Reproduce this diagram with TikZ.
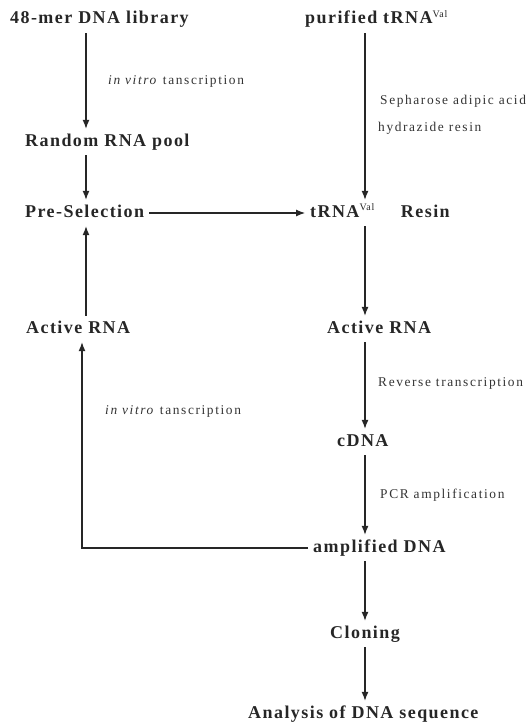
\documentclass[tikz,border=0pt]{standalone}
\usepackage{fontspec}
\setmainfont{Liberation Serif}
\newfontfamily\mainlab[LetterSpace=8]{Liberation Serif}
\newfontfamily\smalllab[LetterSpace=12]{Liberation Serif}
\usetikzlibrary{arrows.meta}
\tikzset{
  mainnode/.style={font=\mainlab\bfseries\fontsize{18}{21}\selectfont, anchor=west, inner sep=5pt, text height=12pt, text depth=4pt, text=black!85},
  labnode/.style={font=\smalllab\fontsize{13.4}{15}\selectfont, anchor=west, inner sep=0pt, text=black!80},
  arr/.style={-{Latex[length=9pt,width=7pt]}, line width=1.1pt, draw=black!85},
}
\newcommand{\valsup}{\textsuperscript{\mdseries\fontsize{10}{10}\selectfont Val}}
\begin{document}
\begin{tikzpicture}[x=1pt,y=-1pt]
\useasboundingbox (0,0) rectangle (530,725);
\coordinate (cL) at (86,0);
\coordinate (cL2) at (82,0);
\coordinate (cR) at (365,0);
% nodes
\node[mainnode] (lib)  at (5,20)   {48-mer DNA library};
\node[mainnode] (pur)  at (300,20) {purified tRNA\valsup};
\node[mainnode] (rnd)  at (20,142) {Random RNA pool};
\node[mainnode] (pre)  at (20,213) {Pre-Selection};
\node[mainnode] (res)  at (305,213) {tRNA\valsup\hspace{26pt}Resin};
\node[mainnode] (actL) at (21,329) {Active RNA};
\node[mainnode] (actR) at (322,329) {Active RNA};
\node[mainnode] (cdna) at (332,442) {cDNA};
\node[mainnode] (amp)  at (308,548) {amplified DNA};
\node[mainnode] (clon) at (325,634) {Cloning};
\node[mainnode] (ana)  at (243,714) {Analysis of DNA sequence};
% labels
\node[labnode] (l1) at (108,81)  {\textit{in vitro} tanscription};
\node[labnode] (l2) at (380,101) {Sepharose adipic acid};
\node[labnode] (l3) at (378,128) {hydrazide resin};
\node[labnode] (l4) at (105,411) {\textit{in vitro} tanscription};
\node[labnode] (l5) at (378,383) {Reverse transcription};
\node[labnode] (l6) at (380,495) {PCR amplification};
% connectors
\draw[arr] (lib.south -| cL) -- (rnd.north -| cL);
\draw[arr] (rnd.south -| cL) -- (pre.north -| cL);
\draw[arr] (actL.north -| cL) -- (pre.south -| cL);
\draw[arr] (pre.east) -- (pre.east -| res.west);
\draw[arr] (pur.south -| cR) -- (res.north -| cR);
\draw[arr] (res.south -| cR) -- (actR.north -| cR);
\draw[arr] (actR.south -| cR) -- (cdna.north -| cR);
\draw[arr] (cdna.south -| cR) -- (amp.north -| cR);
\draw[arr] (amp.south -| cR) -- (clon.north -| cR);
\draw[arr] (clon.south -| cR) -- (ana.north -| cR);
\draw[arr] (amp.west) -- (amp.west -| cL2) -- (actL.south -| cL2);
\end{tikzpicture}
\end{document}
